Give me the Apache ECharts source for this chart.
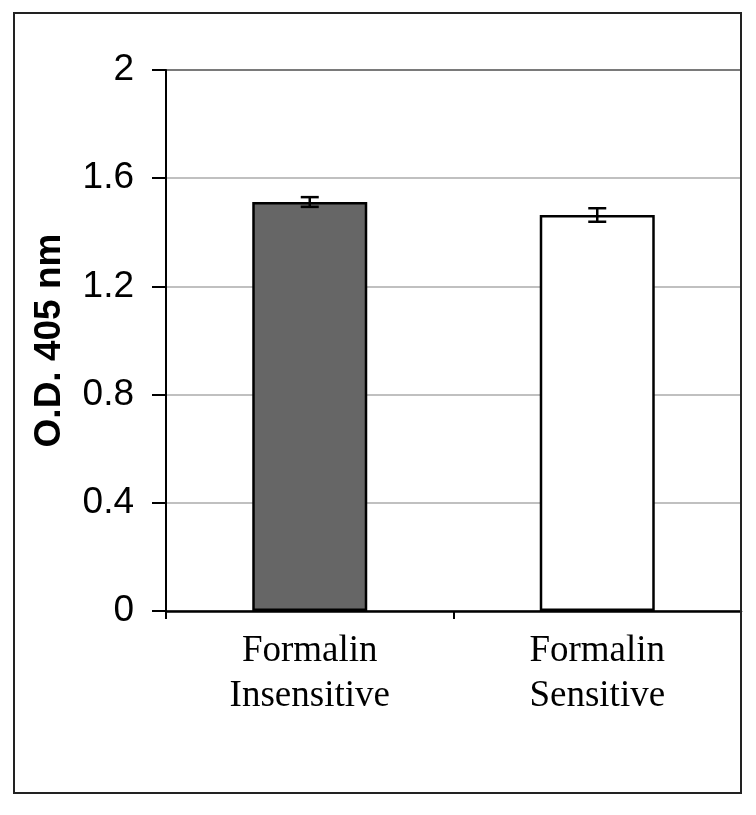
<!DOCTYPE html>
<html>
<head>
<meta charset="utf-8">
<script src="https://cdn.jsdelivr.net/npm/echarts@6/dist/echarts.min.js"></script>
<style>
  html, body { margin: 0; padding: 0; background: #fff; }
  #chart { width: 756px; height: 815px; }
</style>
</head>
<body>
<div id="chart"></div>
<script>
  // data
  var categories = ['Formalin\nInsensitive', 'Formalin\nSensitive']
  var odValues = [1.512, 1.464]
  var odErrors = [0.018, 0.025]
  var barColors = ['#666666', '#ffffff']
  var yTicks = [0, 0.4, 0.8, 1.2, 1.6, 2]

  var chart = echarts.init(document.getElementById('chart'))

  var errorData = odValues.map(function (v, i) {
    return [i, v - odErrors[i], v + odErrors[i]]
  })

  chart.setOption({
    animation: false,
    backgroundColor: '#fff',
    graphic: [{
      type: 'rect',
      shape: { x: 14, y: 13, width: 727, height: 780 },
      style: { fill: 'none', stroke: '#222', lineWidth: 2 },
      z: 100
    }],
    grid: {
      left: 166,
      right: 15,
      top: 70,
      bottom: 204,
      containLabel: false
    },
    xAxis: {
      type: 'category',
      data: categories,
      axisLine: { lineStyle: { color: '#000', width: 2.5 } },
      axisTick: { show: true, length: 8, lineStyle: { color: '#000', width: 2 } },
      axisLabel: {
        margin: 18,
        fontFamily: 'Liberation Serif',
        fontSize: 37,
        lineHeight: 45,
        color: '#000'
      }
    },
    yAxis: {
      type: 'value',
      min: 0,
      max: 2,
      interval: 0.4,
      name: 'O.D. 405 nm',
      nameLocation: 'middle',
      nameGap: 98,
      nameTextStyle: {
        fontFamily: 'Liberation Sans',
        fontWeight: 'bold',
        fontSize: 37,
        color: '#000'
      },
      axisLine: { show: true, lineStyle: { color: '#000', width: 2 } },
      axisTick: { show: true, length: 14, lineStyle: { color: '#000', width: 2 } },
      axisLabel: {
        margin: 32,
        fontFamily: 'Liberation Sans',
        fontSize: 37,
        color: '#000',
        formatter: function (v) {
          var idx = yTicks.indexOf(Math.round(v * 10) / 10)
          return idx >= 0 ? String(yTicks[idx]) : ''
        }
      },
      splitLine: {
        show: true,
        lineStyle: {
          color: ['#c0c0c0', '#c0c0c0', '#c0c0c0', '#c0c0c0', '#c0c0c0', '#7a7a7a'],
          width: 2
        }
      }
    },
    series: [{
      type: 'bar',
      barWidth: '40%',
      data: odValues.map(function (v, i) {
        return { value: v, itemStyle: { color: barColors[i] } }
      }),
      itemStyle: { borderColor: '#000', borderWidth: 2.5 }
    }, {
      type: 'custom',
      data: errorData,
      z: 10,
      renderItem: function (params, api) {
        var x = api.value(0)
        var low = api.coord([x, api.value(1)])
        var high = api.coord([x, api.value(2)])
        var hw = 9
        var st = { stroke: '#000', lineWidth: 2.5 }
        return {
          type: 'group',
          children: [
            { type: 'line', shape: { x1: high[0], y1: high[1], x2: low[0], y2: low[1] }, style: st },
            { type: 'line', shape: { x1: high[0] - hw, y1: high[1], x2: high[0] + hw, y2: high[1] }, style: st },
            { type: 'line', shape: { x1: low[0] - hw, y1: low[1], x2: low[0] + hw, y2: low[1] }, style: st }
          ]
        }
      }
    }]
  })
</script>
</body>
</html>
